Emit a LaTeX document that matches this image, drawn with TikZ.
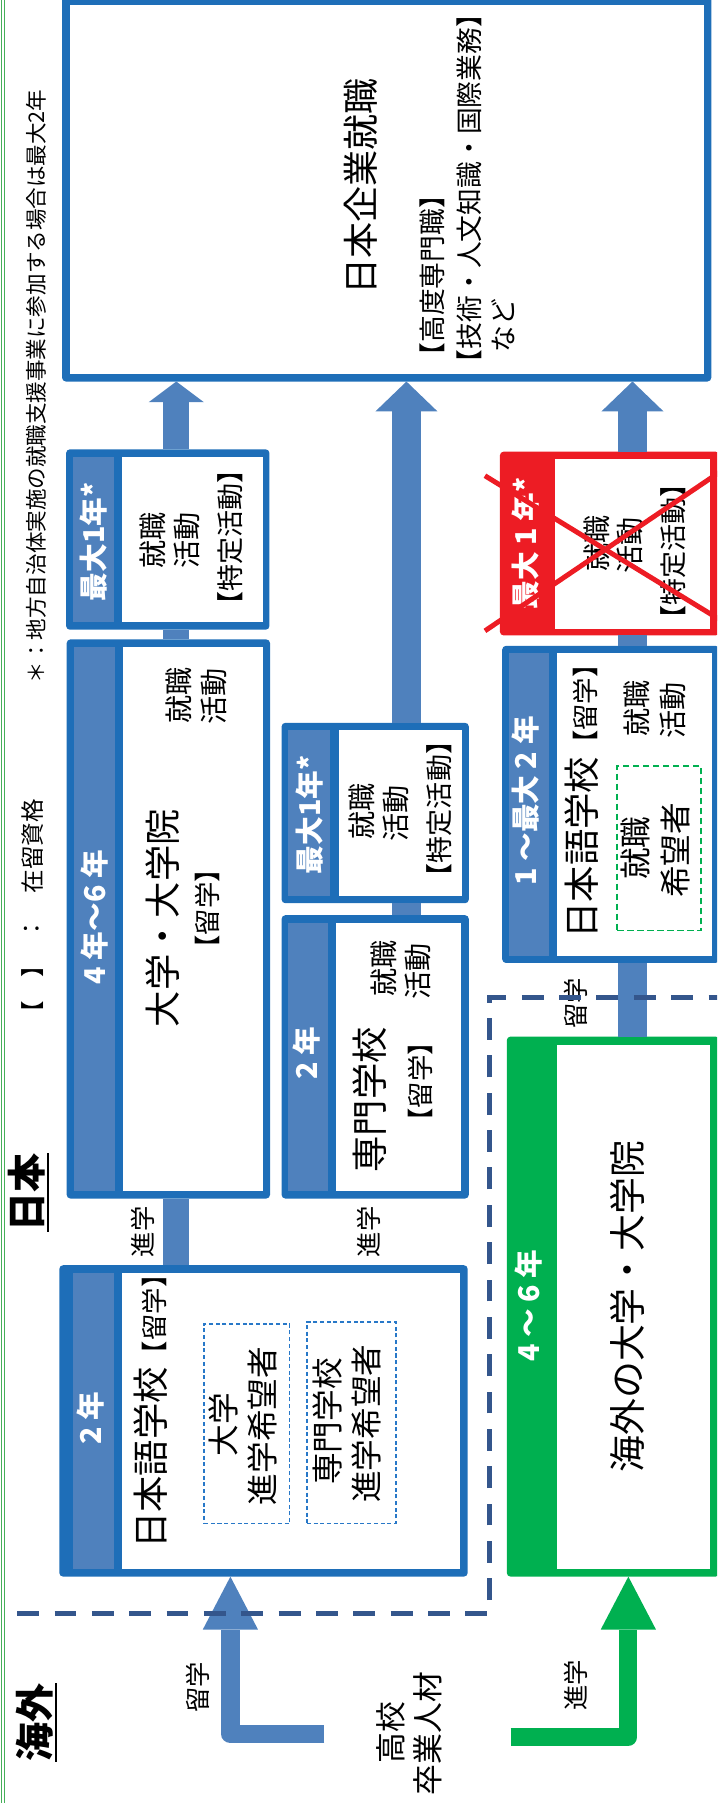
\documentclass[tikz,border=0pt]{standalone}
\usepackage{fontspec}
\setmainfont{Noto Sans CJK JP}
\usetikzlibrary{arrows.meta,fit}
\definecolor{bord}{RGB}{30,110,184}
\definecolor{barb}{RGB}{79,129,189}
\definecolor{grn}{RGB}{0,176,80}
\definecolor{rd}{RGB}{237,28,36}
\definecolor{bndc}{RGB}{52,86,140}
\definecolor{subd}{RGB}{40,120,200}
\definecolor{edgeg}{RGB}{70,175,90}
\newcommand\fsz[2]{\fontsize{#1pt}{#2pt}\selectfont}
\begin{document}
\begin{tikzpicture}[x=0.03cm,y=-0.03cm,
  boxo/.style={inner sep=0pt, outer sep=0pt, fill=#1, rounded corners=0.1cm},
  txt/.style={rotate=90, inner sep=0pt, text=black},
  ttl/.style={txt, font=\fsz{27}{31}},
  sub/.style={txt, font=\fsz{20.9}{25}},
  tok/.style={txt, font=\fsz{20.1}{24}},
  ryu/.style={txt, font=\fsz{19.6}{24}},
  jsub/.style={txt, font=\fsz{19.9}{24}},
  dtx/.style={txt, font=\fsz{23.5}{28}},
  yr/.style={rotate=90, inner sep=0pt, text=white, font=\bfseries\fsz{21.3}{25}},
  conn/.style={txt, font=\fsz{18.8}{22}},
  sh/.style={draw=barb, line width=#1},
  tipS/.style={-{Triangle[width=1.44cm,length=0.54cm,line width=0pt]}},
  tipM/.style={-{Triangle[width=1.62cm,length=0.78cm,line width=0pt]}},
  tipL/.style={-{Triangle[width=1.44cm,length=1.38cm,line width=0pt]}},
  subbox/.style={inner sep=0pt, draw=subd, line width=0.036cm, dash pattern=on 0.105cm off 0.07cm},
  grnbox/.style={inner sep=0pt, draw=grn, line width=0.04cm, dash pattern=on 0.174cm off 0.087cm},
  bndl/.style={draw=bndc, line width=0.15cm, dash pattern=on 0.57cm off 0.405cm},
  xl/.style={draw=rd, line width=0.13cm},
  uline/.style={draw=black, line width=0.05cm},
  region/.style={txt, inner ysep=0.08cm, font=\bfseries\fsz{29}{32}}
]
\useasboundingbox (0,0) rectangle (624,1569);
\clip (0,0) rectangle (624,1569);
% left edge lines
\draw[edgeg, line width=0.02cm] (1.2,0) -- (1.2,1569);
\draw[edgeg, line width=0.02cm] (3.6,0) -- (3.6,1569);
% column coordinates
\coordinate (cA) at (153.4,0);
\coordinate (cB) at (353.7,0);
\coordinate (cC) at (550.4,0);
\coordinate (cL) at (200.5,0);
\coordinate (cG) at (546.8,0);
% job box
\node[boxo=bord, fit={(54,-3) (619,332)}] (job) {};
\fill[white] (60.5,4) rectangle (612.5,325.5);
% A1
\node[boxo=bord, fit={(57.5,391) (234.5,548)}] (A1) {};
\fill[barb] (63.5,397.5) rectangle (99.5,541.5);
\fill[white] (106.5,397.5) rectangle (228.5,541.5);
% A2
\node[boxo=bord, fit={(58,556.4) (235,1043)}] (A2) {};
\fill[barb] (64.5,563) rectangle (100,1036.5);
\fill[white] (106.8,563) rectangle (229,1036.5);
% A3
\node[boxo=bord, fit={(51.6,1101) (407,1372)}] (A3) {};
\fill[barb] (63.5,1107.7) rectangle (99,1365.3);
\fill[white] (106,1107.7) rectangle (400.3,1365.3);
% B1
\node[boxo=bord, fit={(245,629) (408,786)}] (B1) {};
\fill[barb] (251,635.4) rectangle (287,779.6);
\fill[white] (295,635.4) rectangle (402,779.6);
% B2
\node[boxo=bord, fit={(245,796.4) (408,1043)}] (B2) {};
\fill[barb] (251,802.8) rectangle (285.3,1036.6);
\fill[white] (292.5,802.8) rectangle (401.5,1036.6);
% C0 red
\node[boxo=rd, fit={(435,393) (626,553)}] (C0) {};
\fill[white] (483,399) rectangle (618,547);
% C1
\node[boxo=bord, fit={(437,562) (626,838)}] (C1) {};
\fill[barb] (443,568.5) rectangle (478,831.5);
\fill[white] (484.5,568.5) rectangle (620,831.5);
% C2 green
\node[boxo=grn, fit={(441,902) (626,1372)}] (C2) {};
\fill[white] (485,909) rectangle (618,1365);
% shafts
\draw[sh=0.69cm] (A3.north -| cA) -- (A2.south -| cA);
\draw[sh=0.69cm] (A2.north -| cA) -- (A1.south -| cA);
\draw[sh=0.69cm, tipS] (A1.north -| cA) -- (job.south -| cA);
\draw[sh=0.78cm] (B2.north -| cB) -- (B1.south -| cB);
\draw[sh=0.78cm, tipM] (B1.north -| cB) -- (job.south -| cB);
\draw[sh=0.78cm] (C2.north -| cC) -- (C1.south -| cC);
\draw[sh=0.78cm] (C1.north -| cC) -- (C0.south -| cC);
\draw[sh=0.78cm, tipM] (C0.north -| cC) -- (job.south -| cC);
% L arrows
\coordinate (lbS) at (282.2,1509);
\coordinate (lgS) at (444.3,1511.5);
\draw[draw=barb, line width=0.48cm, line join=round, tipL] (lbS) -| (A3.south -| cL);
\draw[draw=grn, line width=0.47cm, line join=round, tipL] (lgS) -| (C2.south -| cG);
% job texts
\node[txt, font=\fsz{26.8}{31}] (jobt) at (314,162.5) {日本企業就職};
\node[jsub] (job1) at (376.5,240) {【高度専門職】};
\node[jsub] (job2) at (408.3,164) {【技術・人文知識・国際業務】};
\node[jsub] (job3) at (438,283) {など};
% A1 texts
\node[yr] (A1y) at (81.5,471.4) {最大1年*};
\node[sub] (A1a) at (133,470) {就職};
\node[sub] (A1b) at (163,470) {活動};
\node[tok] (A1c) at (200.7,468) {【特定活動】};
% A2 texts
\node[yr] (A2y) at (82,798) {4 年～6 年};
\node[ttl] (A2t) at (141.4,799) {大学・大学院};
\node[ryu] (A2r) at (180.6,791) {【留学】};
\node[sub] (A2a) at (156,605) {就職};
\node[sub] (A2b) at (186,606) {活動};
% A3 texts
\node[yr] (A3y) at (79,1234.4) {2 年};
\node[txt, anchor=west] (A3t) at (131,1348) {\fsz{27}{31}日本語学校\fsz{19.6}{24}【留学】};
\node[subbox, fit={(177.6,1152) (252,1326)}] (DA) {};
\node[subbox, fit={(267,1150.5) (344.5,1325.5)}] (DB) {};
\node[dtx] (DA1) at (194.5,1239.5) {大学};
\node[dtx] (DA2) at (228.5,1241) {進学希望者};
\node[dtx] (DB1) at (285,1237) {専門学校};
\node[dtx] (DB2) at (319,1239) {進学希望者};
% B1 texts
\node[yr] (B1y) at (269,709) {最大1年*};
\node[sub] (B1a) at (315,706) {就職};
\node[sub] (B1b) at (344.8,708) {活動};
\node[tok] (B1c) at (382.5,704) {【特定活動】};
% B2 texts
\node[yr] (B2y) at (267,916.8) {2 年};
\node[ttl] (B2t) at (322,957) {専門学校};
\node[ryu] (B2r) at (365.6,941.4) {【留学】};
\node[sub] (B2a) at (334,842.7) {就職};
\node[sub] (B2b) at (363.6,845) {活動};
% C0 texts
\node[yr] (C0y) at (457,473) {最大 1 年*};
\node[sub] (C0a) at (519,473) {就職};
\node[sub] (C0b) at (548.4,475) {活動};
\node[tok] (C0c) at (586,480) {【特定活動】};
\draw[xl] (422,414) -- (626,539);
\draw[xl] (422,549) -- (626,411);
% C1 texts
\node[yr] (C1y) at (457.5,697) {1 ～最大 2 年};
\node[txt, anchor=west] (C1t) at (506,817) {\fsz{27}{31}日本語学校\fsz{19.6}{24}【留学】};
\node[sub] (C1a) at (554,616.5) {就職};
\node[sub] (C1b) at (586,618) {活動};
\node[grnbox, fit={(537,666.5) (610,809.6)}] (DG) {};
\node[dtx] (DG1) at (553,738) {就職};
\node[dtx] (DG2) at (587.5,740) {希望者};
% C2 texts
\node[yr] (C2y) at (460,1136) {4 ～ 6 年};
\node[txt, font=\fsz{27.4}{31}] (C2t) at (546,1137) {海外の大学・大学院};
% connector labels
\node[conn] (l1) at (124,1072) {進学};
\node[conn] (l2) at (321,1072) {進学};
\node[conn] (l3) at (500.7,873) {留学};
\node[conn] (l4) at (172,1468.5) {留学};
\node[conn] (l5) at (501,1466.5) {進学};
\node[txt, font=\fsz{22.9}{29}] (src1) at (340,1508) {高校};
\node[txt, font=\fsz{22.9}{29}] (src2) at (372.6,1508.5) {卒業人材};
% footnote and legend
\node[txt, font=\fsz{16}{19}] (note) at (32,336.3) {＊：地方自治体実施の就職支援事業に参加する場合は最大2年};
\node[txt, font=\fsz{17.5}{20}] (leg1) at (28,861) {【　】};
\node[txt, font=\fsz{17.5}{20}] (leg2) at (28,808) {：};
\node[txt, font=\fsz{17.5}{20}] (leg3) at (28,736.5) {在留資格};
% region labels
\node[region] (jp) at (23,1037.5) {日本};
\draw[uline] (jp.south west) -- (jp.south east);
\node[region] (os) at (30,1499) {海外};
\draw[uline] (os.south west) -- (os.south east);
% boundary
\coordinate (bd1) at (15,1404);
\coordinate (bd2) at (426,1404);
\coordinate (bd3) at (426,868);
\coordinate (bd4) at (626,868);
\draw[bndl] (bd1) -- (bd2) -- (bd3) -- (bd4);
\end{tikzpicture}
\end{document}
